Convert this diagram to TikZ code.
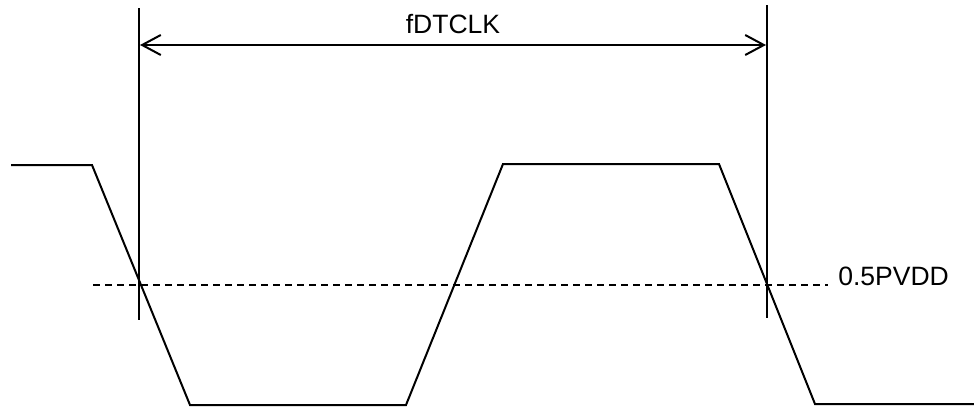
\documentclass[tikz,border=0pt]{standalone}
\usepackage{fontspec}
\setmainfont{Liberation Sans}
\usetikzlibrary{arrows.meta}
\begin{document}
\begin{tikzpicture}[x=0.75pt,y=-0.75pt,
  wave/.style={line width=1.5pt,line join=miter},
  marker/.style={line width=1.5pt},
  dimline/.style={line width=1.5pt,{Straight Barb[length=14pt,width=15pt,line width=1.5pt]}-{Straight Barb[length=14pt,width=15pt,line width=1.5pt]}},
  level/.style={line width=1.2pt,dash pattern=on 5.5pt off 3.5pt},
  lbl/.style={font=\fontsize{19.9}{23}\selectfont,inner sep=0pt}]
\useasboundingbox (0,0) rectangle (974,407);
% waveform
\draw[wave] (11,165) -- (92,165) -- (190,405) -- (406,405) -- (503,164) -- (719,164) -- (815,404) -- (974,404);
% vertical markers
\coordinate (l1top) at (139,8);
\coordinate (l1bot) at (139,320);
\coordinate (l2top) at (767,5);
\coordinate (l2bot) at (767,318);
\draw[marker] (l1top) -- (l1bot);
\draw[marker] (l2top) -- (l2bot);
% dimension arrow
\coordinate (al) at (140,45);
\coordinate (ar) at (766,45);
\draw[dimline] (al) -- (ar);
\node[lbl,anchor=base] (ftxt) at (453,33) {fDTCLK};
% threshold
\coordinate (dl) at (93,285);
\coordinate (dr) at (828,285);
\draw[level] (dl) -- (dr);
\node[lbl,anchor=base west] (vtxt) at (838,285) {0.5PVDD};
\end{tikzpicture}
\end{document}
